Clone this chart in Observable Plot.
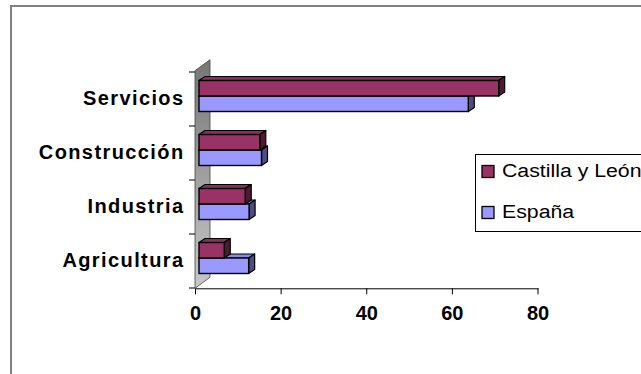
<!DOCTYPE html>
<html>
<head>
<meta charset="utf-8">
<script src="https://cdn.jsdelivr.net/npm/d3@7"></script>
<script src="https://cdn.jsdelivr.net/npm/@observablehq/plot@0.6"></script>
<style>
  html, body { margin: 0; padding: 0; background: #fff; overflow: hidden; }
  #wrap { position: relative; width: 641px; height: 374px; overflow: hidden; }
  #frame { position: absolute; left: 10px; top: 5px; width: 700px; height: 400px;
           border-top: 2px solid #808080; border-left: 2px solid #808080; }
  #chart { position: absolute; left: 0; top: 0; }
  #legend { position: absolute; left: 0; top: 0; }
</style>
</head>
<body>
<div id="wrap">
  <div id="frame"></div>
  <div id="chart"></div>
  <svg id="legend" width="641" height="374"></svg>
</div>
<script>
// ---- data ----
const categories = ["Servicios", "Construcción", "Industria", "Agricultura"];
const seriesNames = ["Castilla y León", "España"];
const castilla = [70.0, 14.2, 10.8, 5.9];
const espana = [62.9, 14.6, 11.7, 11.6];
const xTicks = [0, 20, 40, 60, 80];
const seriesColors = ["#993366", "#9999FF"];
const topColors = ["#8a2e5c", "#8a8ae6"];
const sideColors = ["#4d1a33", "#4d4d80"];

const rows = [];
categories.forEach((c, i) => {
  rows.push({category: c, series: seriesNames[0], k: 0, value: castilla[i]});
  rows.push({category: c, series: seriesNames[1], k: 1, value: espana[i]});
});

// 3D geometry (depth projection)
const WALL_D = [15, -11];
const FRONT = [4, -3];
const DEPTH = [6, -4];
const BAR_H = 15.5;

function bars3d(index, scales, values, dimensions) {
  const x = scales.x, y = scales.y;
  const g = d3.create("svg:g").attr("aria-label", "bars3d");
  const x0 = x(0);
  const [r0, r1] = y.range();
  const top = Math.min(r0, r1), bottom = Math.max(r0, r1);
  const bw = y.bandwidth();

  const defs = g.append("defs");
  const grad = defs.append("linearGradient").attr("id", "wallGrad")
    .attr("x1", 0).attr("y1", 0).attr("x2", 0).attr("y2", 1);
  grad.append("stop").attr("offset", "0%").attr("stop-color", "#767676");
  grad.append("stop").attr("offset", "100%").attr("stop-color", "#c8c8c8");

  g.append("polygon")
    .attr("points", [
      [x0, bottom], [x0, top], [x0 + WALL_D[0], top + WALL_D[1]], [x0 + WALL_D[0], bottom + WALL_D[1]]
    ].map(p => p.join(",")).join(" "))
    .attr("fill", "url(#wallGrad)")
    .attr("stroke", "#444").attr("stroke-width", 0.8);

  const bounds = categories.map(c => y(c)).concat([y(categories[categories.length - 1]) + bw]);
  bounds.forEach(b => {
    g.append("line").attr("x1", x0 - 6).attr("x2", x0).attr("y1", b).attr("y2", b)
      .attr("stroke", "#000").attr("stroke-width", 1);
  });

  categories.forEach(c => {
    [1, 0].forEach(k => {
      const d = rows.find(r => r.category === c && r.k === k);
      const yt = y(c) + bw / 2 - BAR_H + k * BAR_H + FRONT[1];
      const xl = x0 + FRONT[0];
      const xr = x(d.value) + FRONT[0];
      const yb = yt + BAR_H;
      const pts = a => a.map(p => p.join(",")).join(" ");
      g.append("polygon").attr("points", pts([[xl, yt], [xr, yt], [xr + DEPTH[0], yt + DEPTH[1]], [xl + DEPTH[0], yt + DEPTH[1]]]))
        .attr("fill", topColors[k]).attr("stroke", "#000").attr("stroke-width", 1.2).attr("stroke-linejoin", "round");
      g.append("polygon").attr("points", pts([[xr, yt], [xr + DEPTH[0], yt + DEPTH[1]], [xr + DEPTH[0], yb + DEPTH[1]], [xr, yb]]))
        .attr("fill", sideColors[k]).attr("stroke", "#000").attr("stroke-width", 1.2).attr("stroke-linejoin", "round");
      g.append("rect").attr("x", xl).attr("y", yt).attr("width", xr - xl).attr("height", BAR_H)
        .attr("fill", seriesColors[k]).attr("stroke", "#000").attr("stroke-width", 1.4);
    });
  });
  return g.node();
}

const chart = Plot.plot({
  width: 641,
  height: 374,
  marginLeft: 195,
  marginRight: 103.5,
  marginTop: 70.7,
  marginBottom: 85.7,
  style: {
    fontFamily: "Arial, 'Liberation Sans', sans-serif",
    fontSize: "20px",
    fontWeight: "bold",
    background: "transparent",
    color: "#000",
    overflow: "visible"
  },
  x: {domain: [0, 80], ticks: xTicks, tickSize: 6, tickPadding: 11, line: true, label: null},
  y: {type: "band", domain: categories, padding: 0, tickSize: 0, tickPadding: 11, label: null},
  marks: [bars3d]
});
document.getElementById("chart").appendChild(chart);

d3.select(chart).selectAll('g[aria-label^="y-axis"] text')
  .style("letter-spacing", "1.4px")
  .attr("transform", function() {
    const t = this.getAttribute("transform") || "";
    return "translate(0,-0.5) " + t;
  });
d3.select(chart).selectAll('g[aria-label^="x-axis"] line, g[aria-label^="x-axis"] path')
  .attr("stroke", "#000");

// legend
const lg = d3.select("#legend");
lg.append("rect").attr("x", 475.5).attr("y", 154.5).attr("width", 300).attr("height", 77)
  .attr("fill", "#fff").attr("stroke", "#000").attr("stroke-width", 1);
seriesNames.forEach((name, k) => {
  const base = 176.5 + k * 41;
  lg.append("rect").attr("x", 482).attr("y", base - 11).attr("width", 12).attr("height", 12)
    .attr("fill", seriesColors[k]).attr("stroke", "#000").attr("stroke-width", 1.3);
  lg.append("text").attr("transform", `translate(502,${base}) scale(1.12,1)`)
    .attr("font-family", "Arial, 'Liberation Sans', sans-serif").attr("font-size", 19)
    .attr("fill", "#000").text(name);
});
</script>
</body>
</html>
